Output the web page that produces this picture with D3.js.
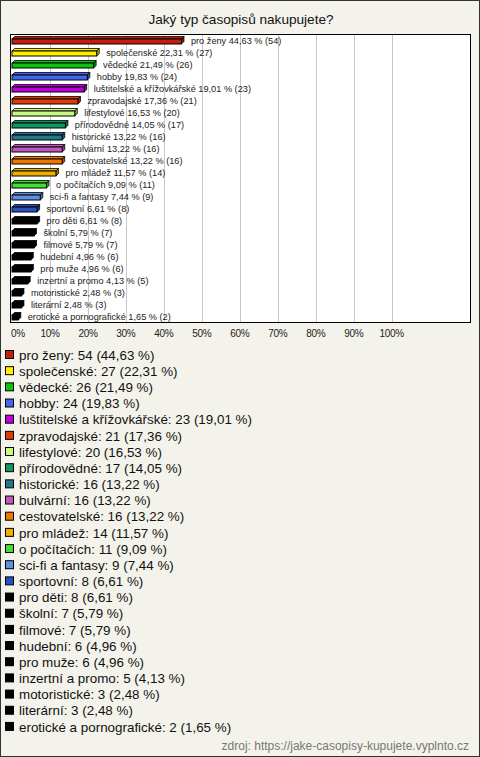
<!DOCTYPE html>
<html><head><meta charset="utf-8">
<script src="https://cdn.jsdelivr.net/npm/d3@7"></script>
<style>body{margin:0;background:#fff}svg{display:block}</style>
</head><body>
<script>
const categories = ["pro ženy","společenské","vědecké","hobby","luštitelské a křížovkářské","zpravodajské","lifestylové","přírodovědné","historické","bulvární","cestovatelské","pro mládež","o počítačích","sci-fi a fantasy","sportovní","pro děti","školní","filmové","hudební","pro muže","inzertní a promo","motoristické","literární","erotické a pornografické"];
const counts = [54,27,26,24,23,21,20,17,16,16,16,14,11,9,8,8,7,7,6,6,5,3,3,2];
const percents = [44.63,22.31,21.49,19.83,19.01,17.36,16.53,14.05,13.22,13.22,13.22,11.57,9.09,7.44,6.61,6.61,5.79,5.79,4.96,4.96,4.13,2.48,2.48,1.65];
const colors = ["#c0200c","#ffee00","#10c010","#4466ee","#c000d8","#e03c08","#c8fa80","#109860","#207888","#c058c0","#f07800","#f0b000","#40e030","#6090e0","#2850c0","#000","#000","#000","#000","#000","#000","#000","#000","#000"];
const ticks = [0,10,20,30,40,50,60,70,80,90,100];
const title = "Jaký typ časopisů nakupujete?";
const source = "zdroj: https://jake-casopisy-kupujete.vyplnto.cz";

const W=480,H=757;
const fmt = v => v.toFixed(2).replace(".",",");
const svg = d3.select("body").append("svg").attr("width",W).attr("height",H)
  .style("font-family","'Liberation Sans', Arial, sans-serif");
svg.append("rect").attr("x",0.5).attr("y",0.5).attr("width",W-1).attr("height",H-1)
  .attr("fill","#f4f3eb").attr("stroke","#333");
svg.append("text").attr("x",241).attr("y",24).attr("text-anchor","middle")
  .attr("font-size",13.6).attr("fill","#111").text(title);

const plot={x0:10.5,y0:34.5,x1:470.5,y1:322.5};
svg.append("rect").attr("x",plot.x0).attr("y",plot.y0).attr("width",plot.x1-plot.x0).attr("height",plot.y1-plot.y0)
  .attr("fill","#fff");
const x = d3.scaleLinear().domain([0,100]).range([12,391.7]);
const y = d3.scaleBand().domain(categories).range([35,323]).paddingInner(0).paddingOuter(0);

svg.append("g").selectAll("line").data(ticks.slice(1)).join("line")
  .attr("x1",d=>Math.round(x(d))+0.5).attr("x2",d=>Math.round(x(d))+0.5)
  .attr("y1",plot.y0).attr("y2",plot.y1).attr("stroke","#c8c8c8");

const g = svg.append("g");
categories.forEach((c,i)=>{
  const cy = y(c)+y.bandwidth()/2;
  const x0 = x(0), x1 = x(percents[i]);
  const d=2.5;
  const top=cy-2, bot=cy+3;
  const col=d3.color(colors[i]);
  const dark = colors[i]==="#000"?"#000":col.darker(0.8).formatHex();
  g.append("path").attr("d",`M${x0},${top}L${x0+d},${top-d}L${x1+d},${top-d}L${x1},${top}Z`)
    .attr("fill",colors[i]).attr("stroke","#000").attr("stroke-width",0.8);
  g.append("path").attr("d",`M${x1},${top}L${x1+d},${top-d}L${x1+d},${bot-d}L${x1},${bot}Z`)
    .attr("fill",dark).attr("stroke","#000").attr("stroke-width",0.8);
  g.append("rect").attr("x",x0).attr("y",top).attr("width",x1-x0).attr("height",bot-top)
    .attr("fill",colors[i]).attr("stroke","#000").attr("stroke-width",1);
  g.append("text").attr("x",x1+d+7).attr("y",cy+3).attr("font-size",9.2).attr("fill","#222")
    .text(`${c} ${fmt(percents[i])} % (${counts[i]})`);
});
svg.append("rect").attr("x",plot.x0).attr("y",plot.y0).attr("width",plot.x1-plot.x0).attr("height",plot.y1-plot.y0)
  .attr("fill","none").attr("stroke","#000");

svg.append("g").selectAll("text").data(ticks).join("text")
  .attr("x",d=>d===0?11:x(d)).attr("y",337).attr("text-anchor",d=>d===0?"start":"middle")
  .attr("font-size",10).attr("fill","#222").attr("letter-spacing","-0.3").text(d=>d+"%");

const lg = svg.append("g");
categories.forEach((c,i)=>{
  const ly = 355 + i*16.17;
  lg.append("rect").attr("x",5.5).attr("y",ly-4.5).attr("width",8).attr("height",8)
    .attr("fill",colors[i]).attr("stroke","#000");
  lg.append("text").attr("x",19).attr("y",ly+4.7).attr("font-size",13.4).attr("fill","#111")
    .text(`${c}: ${counts[i]} (${fmt(percents[i])} %)`);
});
svg.append("text").attr("x",469).attr("y",750).attr("text-anchor","end").attr("font-size",12)
  .attr("fill","#777").text(source);
</script>
</body></html>
